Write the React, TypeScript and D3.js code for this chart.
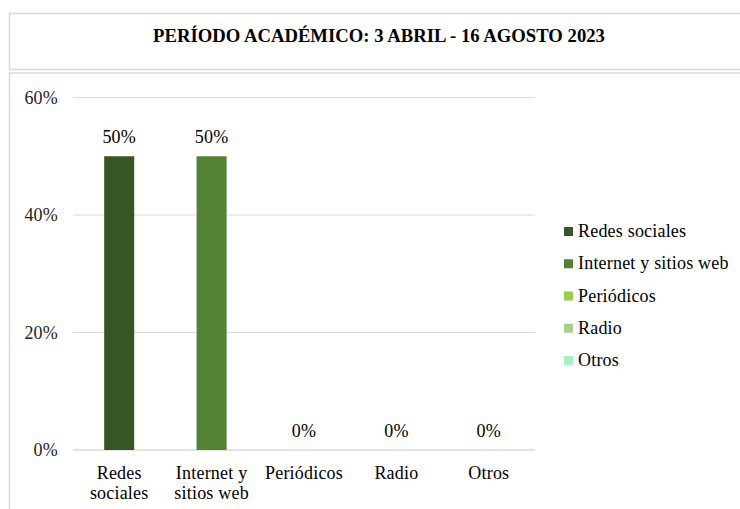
import React from "react";
import * as d3 from "d3";

const categories = ["Redes sociales", "Internet y sitios web", "Periódicos", "Radio", "Otros"];
const categoryLines = [["Redes", "sociales"], ["Internet y", "sitios web"], ["Periódicos"], ["Radio"], ["Otros"]];
const values = [0.5, 0.5, 0, 0, 0];
const colors = ["#375623", "#548235", "#92D050", "#A9D18E", "#A6F2C2"];
const yTicks = [0, 0.2, 0.4, 0.6];
const title = "PERÍODO ACADÉMICO: 3 ABRIL - 16 AGOSTO 2023";

const W = 740;
const H = 509;
const plotLeft = 73;
const plotRight = 535;
const plotTop = 97.5;
const plotBottom = 450;
const FONT = "'Times New Roman', 'Liberation Serif', 'DejaVu Serif', serif";
const ts: React.CSSProperties = { fontFamily: FONT, fontWeight: 400, letterSpacing: "0.2px" };
const FS = 18;

export default function App() {
  const x = d3.scaleBand<string>().domain(categories).range([plotLeft, plotRight]).paddingInner(0.675).paddingOuter(0.3375);
  const y = d3.scaleLinear().domain([0, 0.6]).range([plotBottom, plotTop]);
  const pct = d3.format(".0%");
  const legendY = d3.scalePoint<string>().domain(categories).range([231.5, 360.5]);

  return (
    <svg width={W} height={H} style={{ position: "absolute", left: 0, top: 0, background: "#fff" }}>
      <rect x={9.5} y={13.5} width={W} height={56} fill="#fff" stroke="#D9D9D9" strokeWidth={1.5} />
      <rect x={9.5} y={73} width={W} height={H} fill="#fff" stroke="#D9D9D9" strokeWidth={1.5} />
      <text x={379} y={41.5} textAnchor="middle" style={{ fontFamily: FONT, fontWeight: 700 }} fontSize={18.7} fill="#000">
        {title}
      </text>
      {yTicks.map((t) => (
        <g key={t}>
          <line x1={plotLeft} x2={plotRight} y1={y(t)} y2={y(t)} stroke={t === 0 ? "#C8C8C8" : "#D9D9D9"} strokeWidth={1.2} />
          <text x={58} y={y(t) + 6} textAnchor="end" style={ts} fontSize={FS} fill="#222">
            {pct(t)}
          </text>
        </g>
      ))}
      {categories.map((c, i) => {
        const bx = x(c)!;
        const bw = x.bandwidth();
        return (
          <g key={c}>
            {values[i] > 0 && (
              <rect x={bx} y={y(values[i])} width={bw} height={plotBottom - y(values[i])} fill={colors[i]} />
            )}
            <text x={bx + bw / 2} y={y(values[i]) - 13} textAnchor="middle" style={ts} fontSize={FS} fill="#000">
              {pct(values[i])}
            </text>
            {categoryLines[i].map((ln, j) => (
              <text key={j} x={bx + bw / 2} y={479 + j * 20} textAnchor="middle" style={ts} fontSize={FS} fill="#000">
                {ln}
              </text>
            ))}
          </g>
        );
      })}
      {categories.map((c, i) => (
        <g key={"lg" + c}>
          <rect x={564} y={legendY(c)! - 4.5} width={9} height={9} fill={colors[i]} />
          <text x={578} y={legendY(c)! + 5.5} style={ts} fontSize={FS} fill="#000">
            {c}
          </text>
        </g>
      ))}
    </svg>
  );
}
